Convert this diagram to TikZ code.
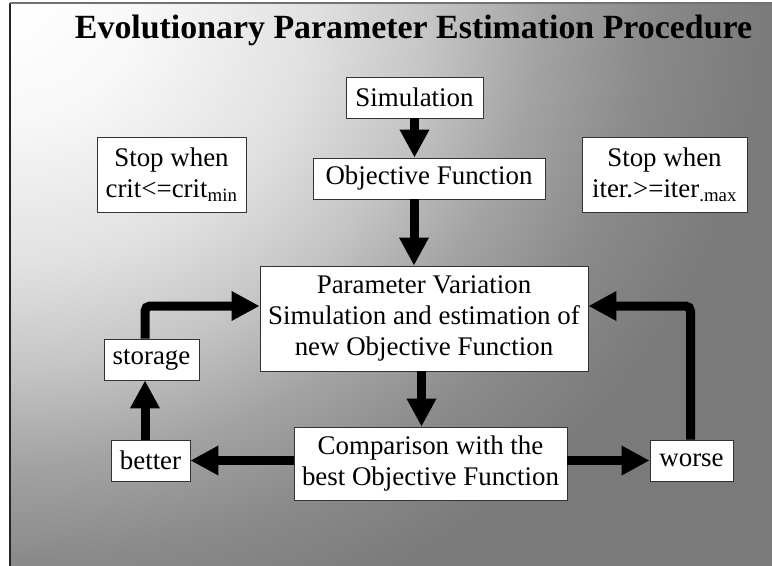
\documentclass[tikz,border=0pt]{standalone}
\usepackage{fontspec}
\setmainfont{Liberation Serif}
\usetikzlibrary{arrows.meta,calc}
\definecolor{g0}{RGB}{248,248,248}
\definecolor{g1}{RGB}{225,225,225}
\definecolor{g2}{RGB}{197,197,197}
\definecolor{g3}{RGB}{163,163,163}
\definecolor{g4}{RGB}{138,138,138}
\definecolor{g5}{RGB}{122,122,122}
\pgfdeclareradialshading{bgshade}{\pgfpoint{0bp}{0bp}}{color(0bp)=(white); color(130bp)=(g0); color(300bp)=(g1); color(420bp)=(g2); color(530bp)=(g3); color(640bp)=(g4); color(760bp)=(g5); color(1300bp)=(g5)}
\tikzset{
 box/.style={draw=black!80, line width=0.9bp, fill=white, inner sep=0pt, align=center, font=\fontsize{27}{31.5}\selectfont},
 arr/.style={line width=9bp, -{Triangle[width=28bp,length=28bp]}, rounded corners=5bp},
}
\begin{document}
\begin{tikzpicture}[x=1bp,y=-1bp]
\useasboundingbox (0,0) rectangle (772,566);
\fill[white] (0,0) rectangle (772,566);
\begin{scope}
\clip (10,3) rectangle (772,566);
\begin{scope}[shift={(10,3)}, yscale=0.87, transform shape]
\node[inner sep=0pt, outer sep=0pt] (bg) at (0,0) {\pgfuseshading{bgshade}};
\end{scope}
\end{scope}
\draw[black!85, line width=1.3bp] (10,570) -- (10,3);
\draw[black!55, line width=1.1bp] (10,3) -- (776,3);

\node[anchor=base, font=\bfseries\fontsize{34}{39}\selectfont] (title) at (413.5,39) {Evolutionary Parameter Estimation Procedure};

\node[box, minimum width=137bp, minimum height=41bp] (sim) at (414.5,97.5) {Simulation};
\node[box, minimum width=232bp, minimum height=41bp] (obj) at (429,178.5) {Objective Function};
\node[box, minimum width=149bp, minimum height=75bp] (stopl) at (171.5,174.5) {Stop when\\crit<=crit\textsubscript{min}};
\node[box, minimum width=165bp, minimum height=75bp] (stopr) at (664.5,174.5) {Stop when\\iter.>=iter\textsubscript{.max}};
\node[box, minimum width=328bp, minimum height=105bp] (main) at (424,318.5) {Parameter Variation\\Simulation and estimation of\\new Objective Function};
\node[box, minimum width=273bp, minimum height=73bp] (comp) at (430.5,463.5) {Comparison with the\\best Objective Function};
\node[box, minimum width=79bp, minimum height=41bp] (better) at (150.5,460.5) {better};
\node[box, minimum width=83bp, minimum height=41bp] (worse) at (691.5,460.5) {worse};
\node[box, minimum width=95bp, minimum height=41bp] (storage) at (151.5,359.5) {storage};

\coordinate (ax) at (414,0);
\coordinate (bx) at (421.5,0);
\coordinate (lx) at (145,306);
\coordinate (rx) at (690.5,306);

\draw[arr] (sim.south) -- (sim.south |- obj.north);
\draw[arr] (obj.south -| ax) -- (main.north -| ax);
\draw[arr] (main.south -| bx) -- (comp.north -| bx);
\draw[arr] (comp.east |- worse.west) -- (worse.west);
\draw[arr] (comp.west |- better.east) -- (better.east);
\draw[arr] (better.north -| lx) -- (storage.south -| lx);
\draw[arr] (storage.north -| lx) -- (lx) -- (main.west |- lx);
\draw[arr] (worse.north -| rx) -- (rx) -- (main.east |- rx);
\end{tikzpicture}
\end{document}
